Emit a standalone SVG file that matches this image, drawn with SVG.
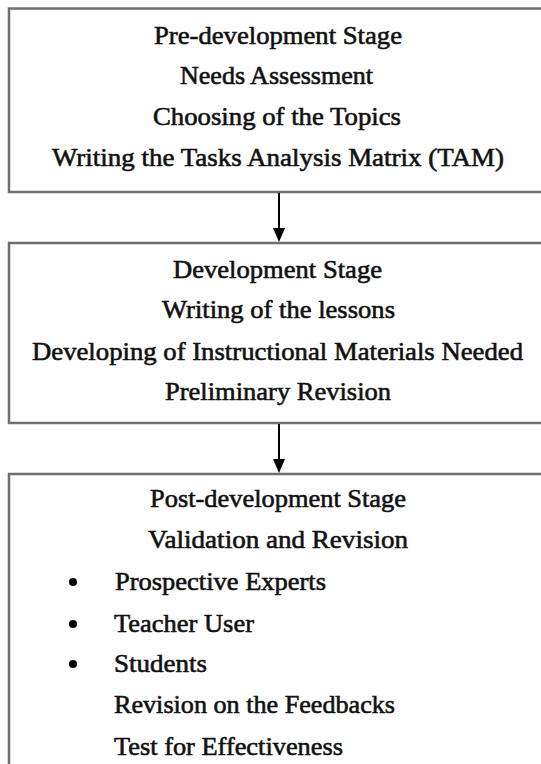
<svg xmlns="http://www.w3.org/2000/svg" width="541" height="764" viewBox="0 0 541 764">
<style>
.box{fill:#fff;stroke:#6e6e6e;stroke-width:2.5}
.t{font-family:"Liberation Serif","Times New Roman",serif;font-size:26px;fill:#111;stroke:#111;stroke-width:0.6}
.conn line{stroke:#000;stroke-width:2}
.conn polygon{fill:#000}
</style>
<rect width="541" height="764" fill="#fff"/>
<g id="pre-development">
<rect class="box" x="9" y="8.5" width="540" height="183.5"/>
<text class="t" x="154" y="44" textLength="248" lengthAdjust="spacingAndGlyphs">Pre-development Stage</text>
<text class="t" x="180" y="84" textLength="193" lengthAdjust="spacingAndGlyphs">Needs Assessment</text>
<text class="t" x="153" y="125" textLength="248" lengthAdjust="spacingAndGlyphs">Choosing of the Topics</text>
<text class="t" x="52" y="166" textLength="452" lengthAdjust="spacingAndGlyphs">Writing the Tasks Analysis Matrix (TAM)</text>
</g>
<g id="development">
<rect class="box" x="9" y="243" width="540" height="180"/>
<text class="t" x="173" y="278" textLength="209" lengthAdjust="spacingAndGlyphs">Development Stage</text>
<text class="t" x="162" y="318" textLength="233" lengthAdjust="spacingAndGlyphs">Writing of the lessons</text>
<text class="t" x="32" y="360" textLength="491" lengthAdjust="spacingAndGlyphs">Developing of Instructional Materials Needed</text>
<text class="t" x="165" y="400" textLength="226" lengthAdjust="spacingAndGlyphs">Preliminary Revision</text>
</g>
<g id="post-development">
<rect class="box" x="9" y="474" width="540" height="300"/>
<text class="t" x="150" y="507" textLength="256" lengthAdjust="spacingAndGlyphs">Post-development Stage</text>
<text class="t" x="148" y="548" textLength="260" lengthAdjust="spacingAndGlyphs">Validation and Revision</text>
<circle cx="73" cy="582" r="4" fill="#000"/>
<text class="t" x="115" y="590" textLength="211" lengthAdjust="spacingAndGlyphs">Prospective Experts</text>
<circle cx="73" cy="624" r="4" fill="#000"/>
<text class="t" x="114" y="632" textLength="140" lengthAdjust="spacingAndGlyphs">Teacher User</text>
<circle cx="73" cy="664" r="4" fill="#000"/>
<text class="t" x="114" y="672" textLength="93" lengthAdjust="spacingAndGlyphs">Students</text>
<text class="t" x="114" y="713" textLength="281" lengthAdjust="spacingAndGlyphs">Revision on the Feedbacks</text>
<text class="t" x="114" y="755" textLength="229" lengthAdjust="spacingAndGlyphs">Test for Effectiveness</text>
</g>
<g id="connectors" class="conn">
<line x1="279" y1="193" x2="279" y2="229"/>
<polygon points="273,228 285,228 279,242"/>
<line x1="279" y1="424" x2="279" y2="460"/>
<polygon points="273,459 285,459 279,473"/>
</g>
</svg>
